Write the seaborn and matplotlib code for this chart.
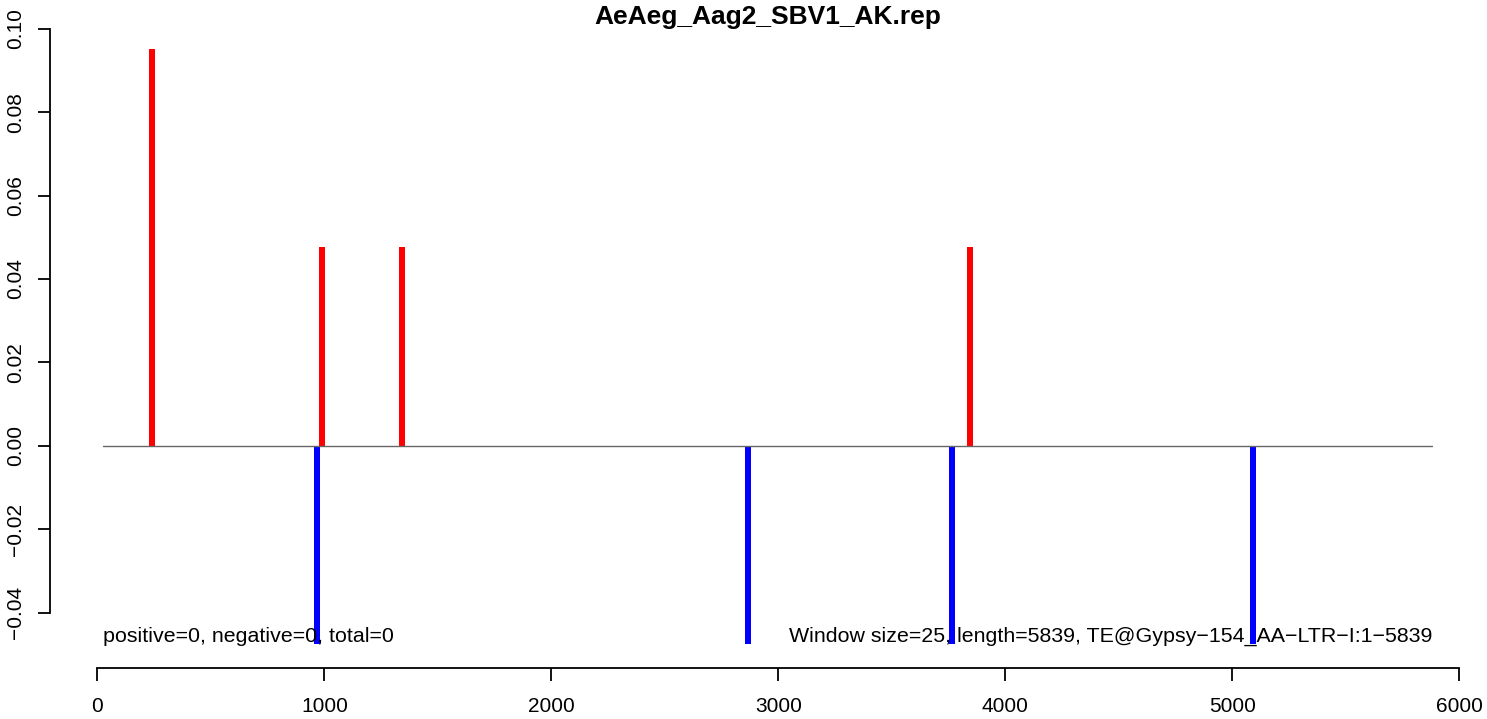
import numpy as np
import pandas as pd
import matplotlib
matplotlib.use("Agg")
import matplotlib.pyplot as plt
import seaborn as sns

# ---- data ----
title = "AeAeg_Aag2_SBV1_AK.rep"
pos_positions = [240, 989, 1342, 3845]
pos_values = [2/21, 1/21, 1/21, 1/21]
neg_positions = [967, 2867, 3766, 5092]
neg_values = [-1/21, -1/21, -1/21, -1/21]
x_ticks = [0, 1000, 2000, 3000, 4000, 5000, 6000]
y_ticks = [-0.04, -0.02, 0.00, 0.02, 0.04, 0.06, 0.08, 0.10]
y_tick_labels = ["\u22120.04", "\u22120.02", "0.00", "0.02", "0.04", "0.06", "0.08", "0.10"]
left_note = "positive=0, negative=0, total=0"
right_note = "Window size=25, length=5839, TE@Gypsy\u2212154_AA\u2212LTR\u2212I:1\u22125839"
line_start, line_end = 25, 5880

sns.set_style("ticks")
plt.rcParams['font.family'] = ['Liberation Sans', 'DejaVu Sans']
plt.rcParams.update({
    "text.color": "black", "axes.edgecolor": "black",
    "xtick.color": "black", "ytick.color": "black",
    "xtick.labelcolor": "black", "ytick.labelcolor": "black",
})

df = pd.DataFrame({
    "pos": pos_positions + neg_positions,
    "val": pos_values + neg_values,
    "strand": ["+"] * len(pos_positions) + ["-"] * len(neg_positions),
})

fig = plt.figure(figsize=(14.87, 7.19), dpi=100)
ax = fig.add_axes([50/1487, (719-668)/719, (1485-50)/1487, (668-25)/719])

min_gap = np.min(np.diff(np.unique(df["pos"])))
bar_w = 26.0 / min_gap
sns.barplot(data=df, x="pos", y="val", hue="strand", native_scale=True,
            palette={"+": "#ff0000", "-": "#0000ff"}, dodge=False,
            width=bar_w, errorbar=None, legend=False, ax=ax,
            linewidth=0, saturation=1)

sns.lineplot(x=[line_start, line_end], y=[0, 0], color="#666666", linewidth=1.0, ax=ax)

ax.set_xlim(-209, 6114)
ax.set_ylim(-0.0533, 0.1009)

for s in ["top", "right"]:
    ax.spines[s].set_visible(False)
ax.spines["left"].set_bounds(-0.04, 0.10)
ax.spines["bottom"].set_bounds(0, 6000)
ax.spines["left"].set_linewidth(1.3)
ax.spines["bottom"].set_linewidth(1.3)

ax.set_xticks(x_ticks)
ax.set_xticklabels([str(t) for t in x_ticks], fontsize=15)
ax.set_yticks(y_ticks)
ax.set_yticklabels(y_tick_labels, fontsize=15, rotation=90, va="center")
ax.tick_params(axis="both", length=9, width=1.3, direction="out", color="black")
ax.tick_params(axis="x", pad=12)
ax.tick_params(axis="y", pad=9)
ax.set_xlabel("")
ax.set_ylabel("")

ax.text(line_start, -0.0458, left_note, fontsize=15.4, ha="left", va="center")
ax.text(line_end, -0.0458, right_note, fontsize=15.4, ha="right", va="center")

fig.text((50+1485)/2/1487, 1-24/719, title, fontsize=19, fontweight="bold", ha="center", va="baseline")

fig.savefig("out.png", dpi=100)
